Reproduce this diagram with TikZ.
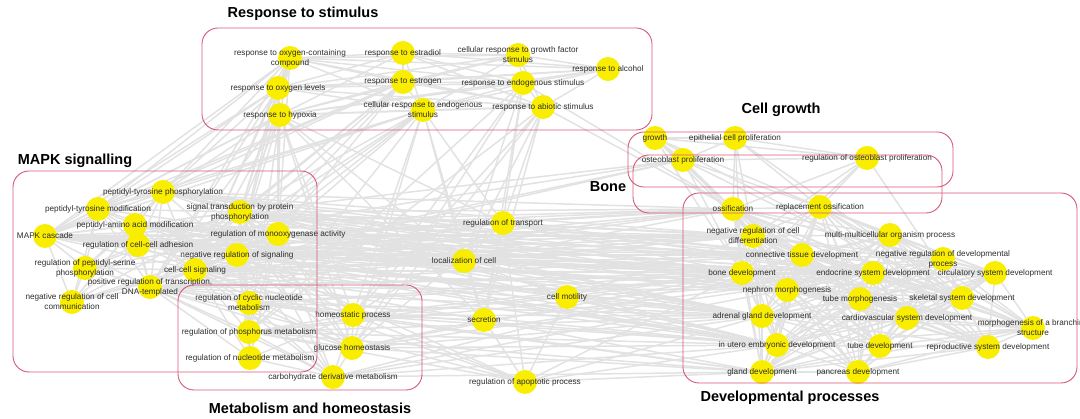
\documentclass[tikz,border=0pt]{standalone}
\usepackage{fontspec}
\setmainfont{Liberation Sans}
\usetikzlibrary{backgrounds}

\definecolor{termyellow}{RGB}{250,238,0}
\definecolor{boxred}{RGB}{214,88,118}
\definecolor{linkgray}{RGB}{226,226,226}
\definecolor{txtgray}{RGB}{45,45,45}

\newcommand\respterms{roc,rest,crgf,ralc,rol,restr,res,rhyp,cres,rabs}
\newcommand\mapkterms{pytp,pytm,stpp,paam,mapk,rmono,rcca,nrsig,rpsp,ccs,prt,nrcc}
\newcommand\metaterms{rcnm,rpm,rnm,hp,gh,cdm}
\newcommand\growterms{gro,epi,obp,robp}
\newcommand\devterms{oss,ross,nrcd,mmop,ctd,nrdp,bd,esd,csd,nm,tm,ssd,agd,cvsd,mbs,iued,td,rsd,gd,pd}

\begin{document}
\begin{tikzpicture}[x=1pt, y=-1pt,
    term/.style={circle, fill=termyellow, minimum size=24pt, inner sep=0pt},
    lbl/.style={font=\fontsize{8.2}{10}\selectfont, text=txtgray, align=center, inner sep=0pt},
    link/.style={draw=linkgray, line width=1.5pt},
    groupbox/.style={draw=boxred, line width=0.9pt, rounded corners=16pt},
    grouptitle/.style={font=\bfseries\fontsize{14.5}{17}\selectfont, inner sep=0pt}]
  \useasboundingbox (0,0) rectangle (1080,419);

  \node[term, label={[lbl]center:{response to oxygen-containing\\compound}}] (roc) at (290,58) {};
  \node[term, label={[lbl]center:{response to estradiol}}] (rest) at (403,53) {};
  \node[term, label={[lbl]center:{cellular response to growth factor\\stimulus}}] (crgf) at (518,55) {};
  \node[term, label={[lbl]center:{response to alcohol}}] (ralc) at (608,69) {};
  \node[term, label={[lbl]center:{response to oxygen levels}}] (rol) at (278,88) {};
  \node[term, label={[lbl]center:{response to estrogen}}] (restr) at (403,82) {};
  \node[term, label={[lbl]center:{response to endogenous stimulus}}] (res) at (523,83) {};
  \node[term, label={[lbl]center:{response to hypoxia}}] (rhyp) at (280,115) {};
  \node[term, label={[lbl]center:{cellular response to endogenous\\stimulus}}] (cres) at (423,110) {};
  \node[term, label={[lbl]center:{response to abiotic stimulus}}] (rabs) at (543,107) {};

  \node[term, label={[lbl]center:{peptidyl-tyrosine phosphorylation}}] (pytp) at (163,192) {};
  \node[term, label={[lbl]center:{peptidyl-tyrosine modification}}] (pytm) at (98,209) {};
  \node[term, label={[lbl]center:{signal transduction by protein\\phosphorylation}}] (stpp) at (240,212) {};
  \node[term, label={[lbl]center:{peptidyl-amino acid modification}}] (paam) at (135,225) {};
  \node[term, label={[lbl]center:{MAPK cascade}}] (mapk) at (45,236) {};
  \node[term, label={[lbl]center:{regulation of monooxygenase activity}}] (rmono) at (278,234) {};
  \node[term, label={[lbl]center:{regulation of cell-cell adhesion}}] (rcca) at (138,245) {};
  \node[term, label={[lbl]center:{negative regulation of signaling}}] (nrsig) at (237,255) {};
  \node[term, label={[lbl]center:{regulation of peptidyl-serine\\phosphorylation}}] (rpsp) at (85,268) {};
  \node[term, label={[lbl]center:{cell-cell signaling}}] (ccs) at (195,270) {};
  \node[term, label={[lbl]center:{positive regulation of transcription,\\DNA-templated}}] (prt) at (150,287) {};
  \node[term, label={[lbl]center:{negative regulation of cell\\communication}}] (nrcc) at (72,302) {};

  \node[term, label={[lbl]center:{regulation of cyclic nucleotide\\metabolism}}] (rcnm) at (249,303) {};
  \node[term, label={[lbl]center:{regulation of phosphorus metabolism}}] (rpm) at (249,332) {};
  \node[term, label={[lbl]center:{regulation of nucleotide metabolism}}] (rnm) at (250,358) {};
  \node[term, label={[lbl]center:{homeostatic process}}] (hp) at (353,315) {};
  \node[term, label={[lbl]center:{glucose homeostasis}}] (gh) at (352,348) {};
  \node[term, label={[lbl]center:{carbohydrate derivative metabolism}}] (cdm) at (333,377) {};

  \node[term, label={[lbl]center:{regulation of transport}}] (rt) at (503,223) {};
  \node[term, label={[lbl]center:{localization of cell}}] (loc) at (464,261) {};
  \node[term, label={[lbl]center:{cell motility}}] (cm) at (567,297) {};
  \node[term, label={[lbl]center:{secretion}}] (sec) at (484,320) {};
  \node[term, label={[lbl]center:{regulation of apoptotic process}}] (rap) at (525,382) {};

  \node[term, label={[lbl]center:{growth}}] (gro) at (655,138) {};
  \node[term, label={[lbl]center:{epithelial cell proliferation}}] (epi) at (735,138) {};
  \node[term, label={[lbl]center:{osteoblast proliferation}}] (obp) at (683,160) {};
  \node[term, label={[lbl]center:{regulation of osteoblast proliferation}}] (robp) at (867,158) {};

  \node[term, label={[lbl]center:{ossification}}] (oss) at (733,209) {};
  \node[term, label={[lbl]center:{replacement ossification}}] (ross) at (820,207) {};
  \node[term, label={[lbl]center:{negative regulation of cell\\differentiation}}] (nrcd) at (753,236) {};
  \node[term, label={[lbl]center:{multi-multicellular organism process}}] (mmop) at (890,235) {};
  \node[term, label={[lbl]center:{connective tissue development}}] (ctd) at (802,255) {};
  \node[term, label={[lbl]center:{negative regulation of developmental\\process}}] (nrdp) at (943,259) {};
  \node[term, label={[lbl]center:{bone development}}] (bd) at (742,273) {};
  \node[term, label={[lbl]center:{endocrine system development}}] (esd) at (873,273) {};
  \node[term, label={[lbl]center:{circulatory system development}}] (csd) at (995,273) {};
  \node[term, label={[lbl]center:{nephron morphogenesis}}] (nm) at (787,290) {};
  \node[term, label={[lbl]center:{tube morphogenesis}}] (tm) at (860,299) {};
  \node[term, label={[lbl]center:{skeletal system development}}] (ssd) at (962,298) {};
  \node[term, label={[lbl]center:{adrenal gland development}}] (agd) at (762,316) {};
  \node[term, label={[lbl]center:{cardiovascular system development}}] (cvsd) at (907,318) {};
  \node[term, label={[lbl]center:{morphogenesis of a branching\\structure}}] (mbs) at (1033,328) {};
  \node[term, label={[lbl]center:{in utero embryonic development}}] (iued) at (777,345) {};
  \node[term, label={[lbl]center:{tube development}}] (td) at (880,346) {};
  \node[term, label={[lbl]center:{reproductive system development}}] (rsd) at (988,347) {};
  \node[term, label={[lbl]center:{gland development}}] (gd) at (762,372) {};
  \node[term, label={[lbl]center:{pancreas development}}] (pd) at (858,372) {};

  \begin{scope}[on background layer]
    \foreach \a [count=\i] in \respterms
      \foreach \b [count=\j] in \respterms
        {\ifnum\j>\i \draw[link] (\a) -- (\b); \fi}
    \foreach \a [count=\i] in \mapkterms
      \foreach \b [count=\j] in \mapkterms
        {\ifnum\j>\i \draw[link] (\a) -- (\b); \fi}
    \foreach \a [count=\i] in \metaterms
      \foreach \b [count=\j] in \metaterms
        {\ifnum\j>\i \draw[link] (\a) -- (\b); \fi}
    \foreach \a [count=\i] in \growterms
      \foreach \b [count=\j] in \growterms
        {\ifnum\j>\i \draw[link] (\a) -- (\b); \fi}
    \foreach \a [count=\i] in \devterms
      \foreach \b [count=\j] in \devterms
        {\ifnum\j>\i \draw[link] (\a) -- (\b); \fi}
    \foreach \a in {rol,rhyp,roc,restr,cres}
      \foreach \b in {pytp,pytm,stpp,rmono,nrsig,ccs,mapk,prt}
        \draw[link] (\a) -- (\b);
    \foreach \a in {rhyp,cres,rabs,res}
      \foreach \b in {rpm,hp,gh,rt,loc,sec}
        \draw[link] (\a) -- (\b);
    \foreach \a in {res,rabs}
      \draw[link] (\a) -- (oss);
    \foreach \a in {stpp,rmono,nrsig,ccs,rcca,paam,pytp,prt,mapk}
      \foreach \b in {oss,nrcd,bd,ctd,agd,esd,nm,iued}
        \draw[link] (\a) -- (\b);
    \foreach \a in {nrsig,ccs,prt,rmono,stpp}
      \foreach \b in {rcnm,rpm,rnm,hp,gh,cdm}
        \draw[link] (\a) -- (\b);
    \foreach \a in {rcnm,rpm,hp,gh,cdm}
      \foreach \b in {bd,agd,iued,gd,esd}
        \draw[link] (\a) -- (\b);
    \foreach \b in {rmono,nrsig,stpp,ccs,hp,gh,nrcd,bd,ctd,esd,loc,sec,rap}
      \draw[link] (rt) -- (\b);
    \foreach \b in {ccs,nrsig,rcca,pytp,oss,bd,nrcd,agd,sec,cm}
      \draw[link] (loc) -- (\b);
    \foreach \b in {bd,agd,iued,nrcd,rcca,nrsig,rap}
      \draw[link] (cm) -- (\b);
    \foreach \b in {rap,hp,gh,ccs,esd,gd}
      \draw[link] (sec) -- (\b);
    \foreach \b in {bd,agd,gd,iued,nrsig,ccs,prt,rpm,hp}
      \draw[link] (rap) -- (\b);
    \foreach \a in {gro,epi,obp,robp}
      \foreach \b in {oss,ross,bd,ssd,nrcd}
        \draw[link] (\a) -- (\b);
    \foreach \b in {rcca,nrsig,ccs,stpp}
      \draw[link] (obp) -- (\b);
  \end{scope}

  \draw[groupbox] (202,28) rectangle (652,130);
  \draw[groupbox] (13,171) rectangle (317,372);
  \draw[groupbox] (178,285) rectangle (422,390);
  \draw[groupbox] (628,132) rectangle (953,187);
  \draw[groupbox] (633,155) rectangle (942,213);
  \draw[groupbox] (683,193) rectangle (1077,383);

  \node[grouptitle] (t-resp) at (303,14) {Response to stimulus};
  \node[grouptitle] (t-mapk) at (75,161) {MAPK signalling};
  \node[grouptitle] (t-meta) at (310,408) {Metabolism and homeostasis};
  \node[grouptitle] (t-grow) at (781,110) {Cell growth};
  \node[grouptitle] (t-bone) at (608,187) {Bone};
  \node[grouptitle] (t-dev) at (790,398) {Developmental processes};
\end{tikzpicture}
\end{document}
